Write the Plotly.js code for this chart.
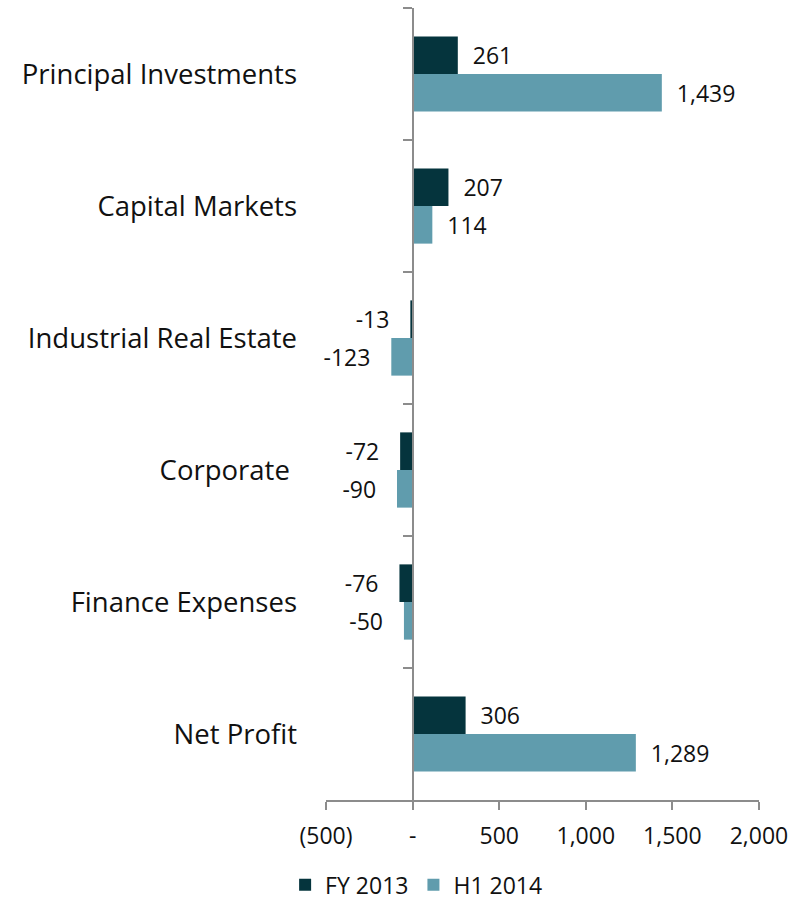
<!DOCTYPE html>
<html>
<head>
<meta charset="utf-8">
<script src="https://cdn.plot.ly/plotly-3.0.1.min.js"></script>
<style>html,body{margin:0;padding:0;background:#fff;}#chart{width:808px;height:900px;}</style>
</head>
<body>
<div id="chart"></div>
<script>
const categories = ["Principal Investments", "Capital Markets", "Industrial Real Estate", "Corporate\u00a0", "Finance Expenses", "Net Profit"];
const seriesNames = ["FY 2013", "H1 2014"];
const fy2013 = [261, 207, -13, -72, -76, 306];
const h12014 = [1439, 114, -123, -90, -50, 1289];
const tickVals = [-500, 0, 500, 1000, 1500, 2000];
const tickText = ["(500)", "-", "500", "1,000", "1,500", "2,000"];

const colors = ["#05343d", "#609cad"];
const font = "'Open Sans', 'DejaVu Sans', sans-serif";
const txtColor = "#111111";
const axisGray = "#8c8c8c";

function labels(vals) {
  return vals.map(v => {
    const s = v.toLocaleString('en-US');
    return v >= 0 ? '\u00a0\u00a0' + s : s + '\u00a0\u00a0\u00a0';
  });
}

const traces = [fy2013, h12014].map((vals, i) => ({
  type: 'bar',
  orientation: 'h',
  name: seriesNames[i],
  x: vals,
  y: categories,
  marker: {color: colors[i]},
  text: labels(vals),
  textposition: 'outside',
  cliponaxis: false,
  textfont: {family: font, size: 23, color: txtColor},
  hoverinfo: 'x+name'
}));

// helper trace to give the zero-positioned category axis its categories
traces.push({
  type: 'scatter',
  mode: 'markers',
  x: categories.map(() => 0),
  y: categories,
  yaxis: 'y2',
  marker: {opacity: 0},
  showlegend: false,
  hoverinfo: 'skip'
});

const layout = {
  width: 808,
  height: 900,
  margin: {l: 326, r: 49, t: 8, b: 100},
  paper_bgcolor: '#ffffff',
  plot_bgcolor: '#ffffff',
  font: {family: font, color: txtColor},
  barmode: 'group',
  bargap: 0.43,
  bargroupgap: 0,
  showlegend: true,
  legend: {
    orientation: 'h',
    xref: 'container', yref: 'container',
    x: 0.515, xanchor: 'center',
    y: 0.017, yanchor: 'middle',
    font: {family: font, size: 23, color: txtColor},
    traceorder: 'normal',
    itemwidth: 30
  },
  xaxis: {
    range: [-500, 2000],
    tickvals: tickVals,
    ticktext: tickText,
    showgrid: false,
    zeroline: false,
    showline: true,
    linecolor: axisGray,
    linewidth: 2,
    ticks: 'outside',
    ticklen: 8,
    tickwidth: 2,
    tickcolor: axisGray,
    ticklabelstandoff: 6,
    tickfont: {family: font, size: 23, color: txtColor},
    automargin: false
  },
  yaxis: {
    type: 'category',
    categoryorder: 'array',
    categoryarray: categories,
    range: [5.5, -0.5],
    showgrid: false,
    zeroline: false,
    showline: false,
    ticks: '',
    ticklabelstandoff: 28,
    tickfont: {family: font, size: 27.5, color: txtColor},
    automargin: false
  },
  yaxis2: {
    type: 'category',
    overlaying: 'y',
    anchor: 'free',
    position: 0.2,
    side: 'left',
    categoryorder: 'array',
    categoryarray: categories,
    range: [5.5, -0.5],
    showgrid: false,
    zeroline: false,
    showline: true,
    linecolor: axisGray,
    linewidth: 2,
    ticks: 'outside',
    tickson: 'boundaries',
    ticklen: 9,
    tickwidth: 2,
    tickcolor: axisGray,
    showticklabels: false,
    automargin: false
  }
};

Plotly.newPlot('chart', traces, layout, {displayModeBar: false, staticPlot: true});
</script>
</body>
</html>
